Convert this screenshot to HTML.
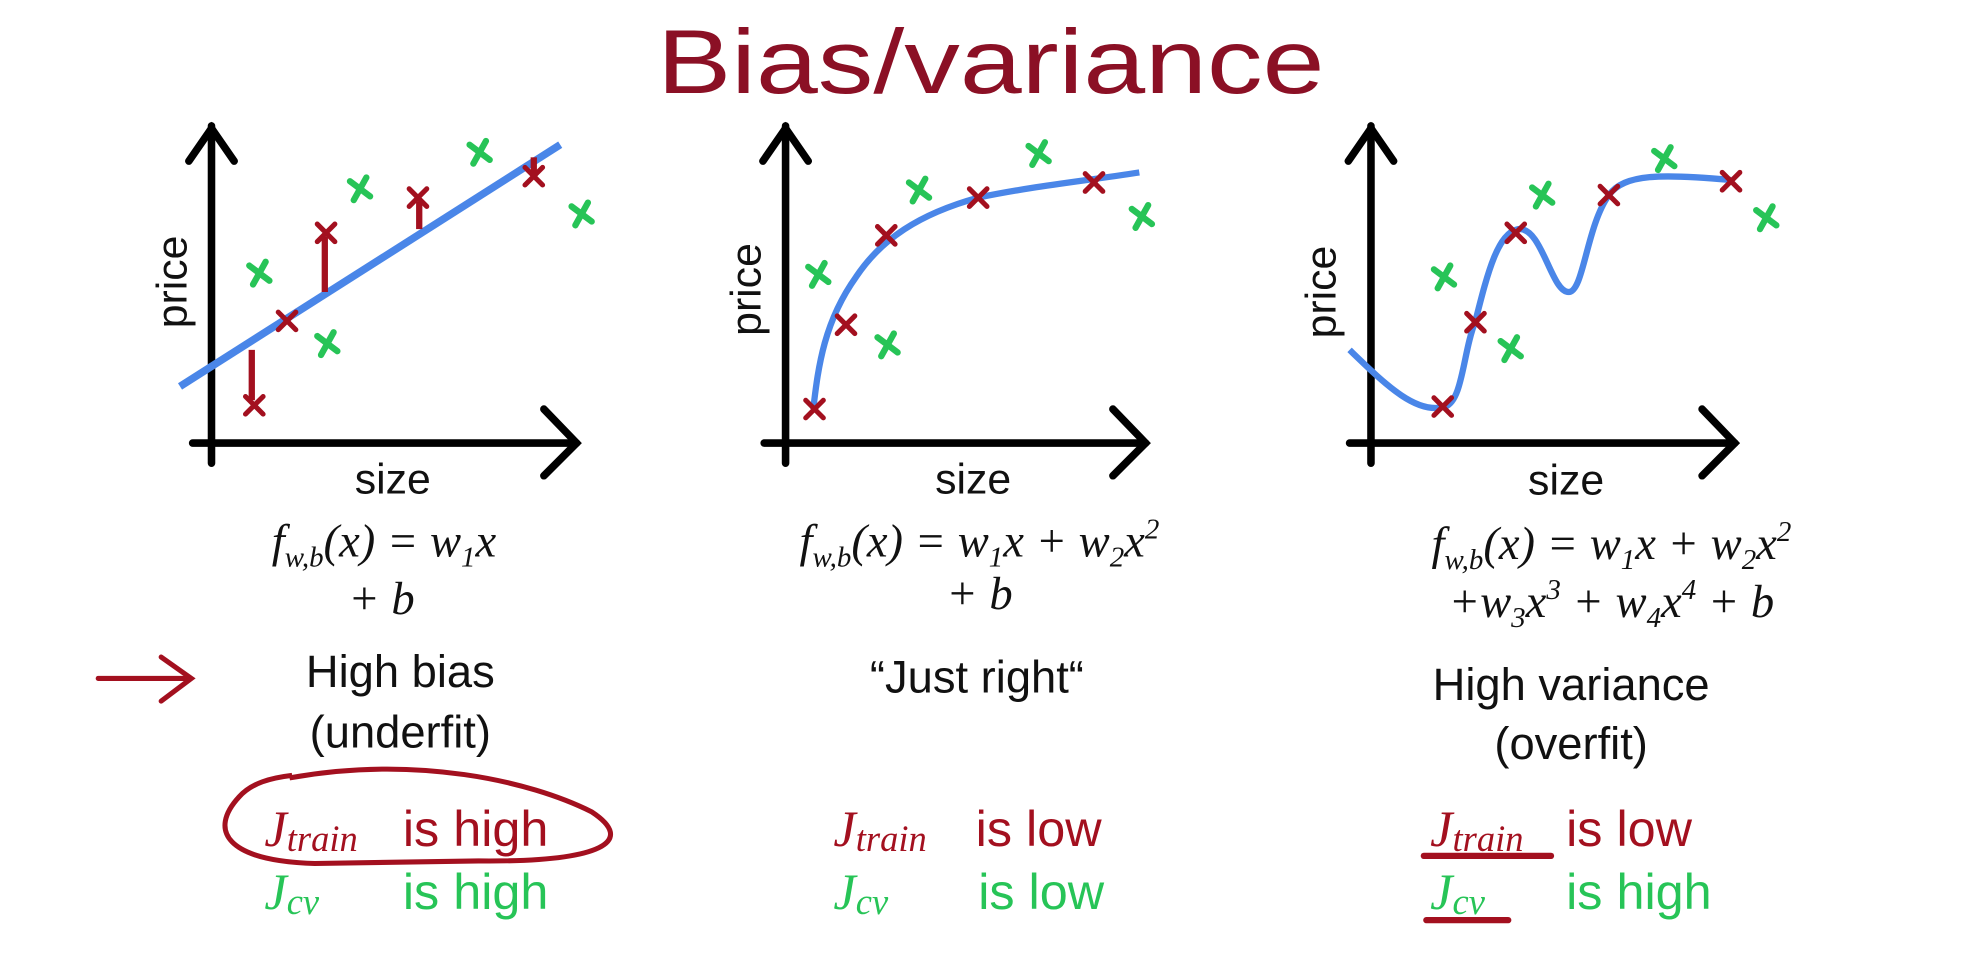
<!DOCTYPE html>
<html><head><meta charset="utf-8"><style>
html,body{margin:0;padding:0;background:#fff;}
svg{display:block;}
.t{font-family:"Liberation Sans",sans-serif;fill:#111;}
.m{font-family:"Liberation Serif",serif;font-style:italic;fill:#111;}
.r{fill:#a3101f;} .g{fill:#27c457;}
</style></head><body>
<svg width="1974" height="978" viewBox="0 0 1568 777" preserveAspectRatio="none" xmlns="http://www.w3.org/2000/svg">
<defs>
<g id="xr" stroke="#a3101f" stroke-width="4" stroke-linecap="round"><line x1="-7" y1="-7" x2="7" y2="7"/><line x1="7" y1="-7" x2="-7" y2="7"/></g>
<g id="xg" stroke="#27c457" stroke-width="5" stroke-linecap="round"><line x1="-8" y1="-6" x2="8" y2="6"/><line x1="5" y1="-9" x2="-5" y2="9"/></g>
</defs>
<text x="787" y="74" text-anchor="middle" class="t" style="font-size:72px;fill:#8b1025" textLength="530" lengthAdjust="spacingAndGlyphs">Bias/variance</text>

<!-- Panel 1 -->
<g stroke="#000" stroke-width="6" fill="none" stroke-linecap="round">
<line x1="168" y1="100" x2="168" y2="368"/><polyline points="150,128 168,102 186,128"/>
<line x1="153" y1="352" x2="458" y2="352"/><polyline points="432,325 458,352 432,378"/>
</g>
<line x1="143" y1="307" x2="445" y2="115" stroke="#4a86e8" stroke-width="6"/>
<g stroke="#a3101f" stroke-width="5">
<line x1="200" y1="278" x2="200" y2="318"/><line x1="258" y1="232" x2="258" y2="188"/>
<line x1="333" y1="182" x2="333" y2="160"/><line x1="424" y1="125" x2="424" y2="140"/></g>
<use href="#xr" x="202" y="322"/><use href="#xr" x="228" y="255"/><use href="#xr" x="259" y="185"/><use href="#xr" x="332" y="157"/><use href="#xr" x="424" y="140"/>
<use href="#xg" x="206" y="217"/><use href="#xg" x="260" y="273"/><use href="#xg" x="286" y="150"/><use href="#xg" x="381" y="121"/><use href="#xg" x="462" y="170"/>
<text class="t" style="font-size:34px" transform="translate(148,224) rotate(-90)" text-anchor="middle">price</text>
<text class="t" x="312" y="392" text-anchor="middle" style="font-size:34px">size</text>
<text class="m" x="305" y="442" text-anchor="middle" style="font-size:37px">f<tspan style="font-size:23px" dy="8">w,b</tspan><tspan dy="-8">(x) = w</tspan><tspan style="font-size:23px" dy="8">1</tspan><tspan dy="-8">x</tspan></text>
<text class="m" x="303" y="488" text-anchor="middle" style="font-size:37px">+ b</text>
<text class="t" x="318" y="546" text-anchor="middle" style="font-size:36px">High bias</text>
<text class="t" x="318" y="594" text-anchor="middle" style="font-size:36px">(underfit)</text>
<g stroke="#a3101f" stroke-width="4" fill="none" stroke-linecap="round"><line x1="78" y1="539" x2="150" y2="539"/><polyline points="128,522 152,539 128,557"/></g>
<text class="m r" x="210" y="672" style="font-size:40px">J<tspan style="font-size:29px" dy="4">train</tspan></text>
<text class="t r" x="320" y="672" style="font-size:40px">is high</text>
<text class="m g" x="210" y="722" style="font-size:40px">J<tspan style="font-size:29px" dy="4">cv</tspan></text>
<text class="t g" x="320" y="722" style="font-size:40px">is high</text>
<path d="M230 618 C 330 600, 420 620, 470 645 C 505 668, 480 685, 380 684 L250 686 C 180 684, 165 660, 190 633 C 200 622, 215 618, 232 616" stroke="#a3101f" stroke-width="4" fill="none"/>

<!-- Panel 2 -->
<g stroke="#000" stroke-width="6" fill="none" stroke-linecap="round">
<line x1="624" y1="100" x2="624" y2="368"/><polyline points="606,128 624,102 642,128"/>
<line x1="607" y1="352" x2="910" y2="352"/><polyline points="884,325 910,352 884,378"/>
</g>
<path d="M646 325 C 650 290, 655 255, 680 220 C 700 190, 730 170, 777 157 C 820 148, 860 144, 905 137" stroke="#4a86e8" stroke-width="5" fill="none"/>
<use href="#xr" x="647" y="325"/><use href="#xr" x="672" y="258"/><use href="#xr" x="704" y="187"/><use href="#xr" x="777" y="157"/><use href="#xr" x="869" y="145"/>
<use href="#xg" x="650" y="218"/><use href="#xg" x="705" y="274"/><use href="#xg" x="730" y="151"/><use href="#xg" x="825" y="122"/><use href="#xg" x="907" y="172"/>
<text class="t" style="font-size:34px" transform="translate(604,230) rotate(-90)" text-anchor="middle">price</text>
<text class="t" x="773" y="392" text-anchor="middle" style="font-size:34px">size</text>
<text class="m" x="778" y="442" text-anchor="middle" style="font-size:37px">f<tspan style="font-size:23px" dy="8">w,b</tspan><tspan dy="-8">(x) = w</tspan><tspan style="font-size:23px" dy="8">1</tspan><tspan dy="-8">x + w</tspan><tspan style="font-size:23px" dy="8">2</tspan><tspan dy="-8">x</tspan><tspan style="font-size:23px" dy="-14">2</tspan></text>
<text class="m" x="778" y="484" text-anchor="middle" style="font-size:37px">+ b</text>
<text class="t" x="776" y="550" text-anchor="middle" style="font-size:36px">“Just right“</text>
<text class="m r" x="662" y="672" style="font-size:40px">J<tspan style="font-size:29px" dy="4">train</tspan></text>
<text class="t r" x="775" y="672" style="font-size:40px">is low</text>
<text class="m g" x="662" y="722" style="font-size:40px">J<tspan style="font-size:29px" dy="4">cv</tspan></text>
<text class="t g" x="777" y="722" style="font-size:40px">is low</text>

<!-- Panel 3 -->
<g stroke="#000" stroke-width="6" fill="none" stroke-linecap="round">
<line x1="1089" y1="100" x2="1089" y2="368"/><polyline points="1071,128 1089,102 1107,128"/>
<line x1="1072" y1="352" x2="1378" y2="352"/><polyline points="1352,325 1378,352 1352,378"/>
</g>
<path d="M1072 278 C 1100 305, 1125 330, 1148 323 C 1162 318, 1162 280, 1172 255 C 1182 215, 1190 185, 1206 182 C 1225 180, 1232 232, 1246 232 C 1258 232, 1260 180, 1278 155 C 1290 138, 1320 138, 1375 143" stroke="#4a86e8" stroke-width="5" fill="none"/>
<use href="#xr" x="1146" y="323"/><use href="#xr" x="1172" y="256"/><use href="#xr" x="1204" y="185"/><use href="#xr" x="1278" y="155"/><use href="#xr" x="1375" y="144"/>
<use href="#xg" x="1147" y="220"/><use href="#xg" x="1200" y="277"/><use href="#xg" x="1225" y="155"/><use href="#xg" x="1322" y="126"/><use href="#xg" x="1403" y="173"/>
<text class="t" style="font-size:34px" transform="translate(1061,232) rotate(-90)" text-anchor="middle">price</text>
<text class="t" x="1244" y="393" text-anchor="middle" style="font-size:34px">size</text>
<text class="m" x="1280" y="444" text-anchor="middle" style="font-size:37px">f<tspan style="font-size:23px" dy="8">w,b</tspan><tspan dy="-8">(x) = w</tspan><tspan style="font-size:23px" dy="8">1</tspan><tspan dy="-8">x + w</tspan><tspan style="font-size:23px" dy="8">2</tspan><tspan dy="-8">x</tspan><tspan style="font-size:23px" dy="-14">2</tspan></text>
<text class="m" x="1280" y="490" text-anchor="middle" style="font-size:37px">+w<tspan style="font-size:23px" dy="8">3</tspan><tspan dy="-8">x</tspan><tspan style="font-size:23px" dy="-14">3</tspan><tspan dy="14"> + w</tspan><tspan style="font-size:23px" dy="8">4</tspan><tspan dy="-8">x</tspan><tspan style="font-size:23px" dy="-14">4</tspan><tspan dy="14"> + b</tspan></text>
<text class="t" x="1248" y="556" text-anchor="middle" style="font-size:36px">High variance</text>
<text class="t" x="1248" y="603" text-anchor="middle" style="font-size:36px">(overfit)</text>
<text class="m r" x="1136" y="672" style="font-size:40px">J<tspan style="font-size:29px" dy="4">train</tspan></text>
<text class="t r" x="1244" y="672" style="font-size:40px">is low</text>
<text class="m g" x="1136" y="722" style="font-size:40px">J<tspan style="font-size:29px" dy="4">cv</tspan></text>
<text class="t g" x="1244" y="722" style="font-size:40px">is high</text>
<g stroke="#a3101f" stroke-width="5" stroke-linecap="round"><line x1="1131" y1="680" x2="1232" y2="680"/><line x1="1133" y1="731" x2="1198" y2="731"/></g>
</svg>
</body></html>
